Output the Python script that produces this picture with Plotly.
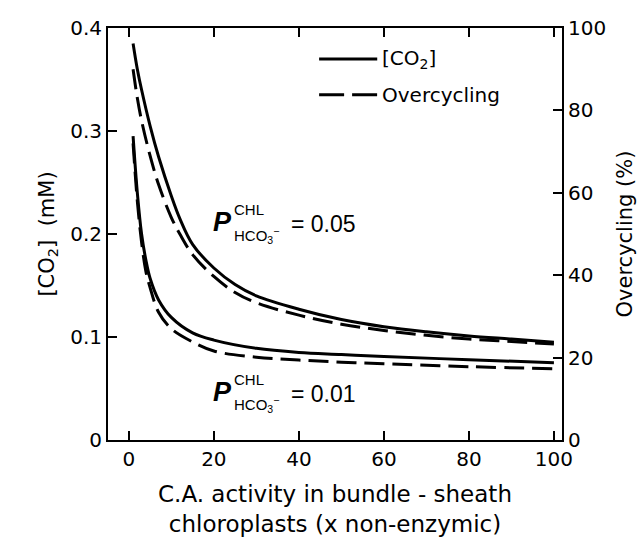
import plotly.graph_objects as go

# CA activity (x non-enzymic)
x_hi = [1, 2, 3, 5, 7, 10, 12, 15, 20, 25, 30, 40, 50, 60, 70, 80, 90, 100]
co2_hi = [0.385, 0.36, 0.34, 0.305, 0.275, 0.237, 0.215, 0.19, 0.167, 0.151, 0.140, 0.127, 0.117, 0.110, 0.105, 0.101, 0.098, 0.095]
oc_hi = [90, 83, 77.5, 69, 62, 54, 50, 45, 39.7, 35.8, 33.3, 30.3, 28.1, 26.6, 25.4, 24.5, 23.9, 23.3]

x_lo = [1, 2, 3, 4, 5, 7, 10, 15, 20, 30, 40, 50, 60, 80, 100]
co2_lo = [0.295, 0.24, 0.2, 0.175, 0.157, 0.136, 0.119, 0.104, 0.097, 0.089, 0.085, 0.083, 0.081, 0.078, 0.075]
oc_lo = [72, 58, 48, 41, 37, 31, 27, 23.8, 21.6, 20.1, 19.4, 18.9, 18.5, 17.8, 17.3]

x_ticks = [0, 20, 40, 60, 80, 100]
y_ticks = [0, 0.1, 0.2, 0.3, 0.4]
y_tick_text = ["0", "0.1", "0.2", "0.3", "0.4"]
y2_ticks = [0, 20, 40, 60, 80, 100]

FONT = "DejaVu Sans, Liberation Sans, sans-serif"
FONT2 = "Liberation Sans, Arial, sans-serif"
LW = 3
DASH = "20px,8px"

fig = go.Figure()
fig.add_trace(go.Scatter(x=x_hi, y=co2_hi, mode="lines", line=dict(color="black", width=LW, shape="spline"),
                         name="[CO2] P=0.05", showlegend=False))
fig.add_trace(go.Scatter(x=x_lo, y=co2_lo, mode="lines", line=dict(color="black", width=LW, shape="spline"),
                         name="[CO2] P=0.01", showlegend=False))
fig.add_trace(go.Scatter(x=x_hi, y=oc_hi, mode="lines", yaxis="y2",
                         line=dict(color="black", width=LW, dash=DASH, shape="spline"),
                         name="Overcycling P=0.05", showlegend=False))
fig.add_trace(go.Scatter(x=x_lo, y=oc_lo, mode="lines", yaxis="y2",
                         line=dict(color="black", width=LW, dash=DASH, shape="spline"),
                         name="Overcycling P=0.01", showlegend=False))

axis_common = dict(showline=True, linecolor="black", linewidth=2, ticks="inside", ticklen=9,
                   tickwidth=2, tickcolor="black", showgrid=False, zeroline=False, automargin=False,
                   tickfont=dict(family=FONT, size=20, color="black"))

fig.update_layout(
    width=644, height=543,
    margin=dict(l=108, r=82, t=28, b=103),
    paper_bgcolor="white", plot_bgcolor="white",
    font=dict(family=FONT, color="black"),
    xaxis=dict(range=[-4.9, 101.9], tickvals=x_ticks, mirror="ticks", **axis_common,
               title=dict(text="C.A. activity in bundle - sheath<br>chloroplasts (x non-enzymic)",
                          font=dict(family=FONT, size=23), standoff=16)),
    yaxis=dict(range=[0, 0.4], tickvals=y_ticks, ticktext=y_tick_text, **axis_common,
               title=dict(text="[CO<sub>2</sub>]  (mM)", font=dict(family=FONT, size=21), standoff=10)),
    yaxis2=dict(range=[0, 100], tickvals=y2_ticks, overlaying="y", side="right", anchor="x", **axis_common,
                title=dict(text="Overcycling (%)", font=dict(family=FONT, size=21), standoff=12)),
    showlegend=False,
)

# legend (drawn as key lines + labels, in paper coordinates)
legend_items = [("[CO<sub>2</sub>]", "solid", 0.925), ("Overcycling", "25px,8px", 0.838)]
for label, dash, yy in legend_items:
    fig.add_shape(type="line", xref="paper", yref="paper", x0=0.465, x1=0.593, y0=yy, y1=yy,
                  line=dict(color="black", width=LW, dash=dash))
    fig.add_annotation(xref="paper", yref="paper", x=0.6, y=yy, text=label, showarrow=False,
                       xanchor="left", yanchor="middle", font=dict(family=FONT, size=20))


def plabel(xc, yc, value):
    fig.add_annotation(x=xc, y=yc, text="<b><i>P</i></b>", showarrow=False, xanchor="center", yanchor="middle",
                       font=dict(family=FONT2, size=27))
    fig.add_annotation(x=xc + 2.3, y=yc + 0.012, text="CHL", showarrow=False, xanchor="left", yanchor="middle",
                       font=dict(family=FONT2, size=15))
    fig.add_annotation(x=xc + 2.3, y=yc - 0.013, text="HCO<sub>3</sub><sup>−</sup>", showarrow=False,
                       xanchor="left", yanchor="middle", font=dict(family=FONT2, size=15))
    fig.add_annotation(x=xc + 15.6, y=yc - 0.002, text="= " + value, showarrow=False, xanchor="left",
                       yanchor="middle", font=dict(family=FONT2, size=23))


plabel(22, 0.212, "0.05")
plabel(22, 0.047, "0.01")

fig.write_html("out.html")
